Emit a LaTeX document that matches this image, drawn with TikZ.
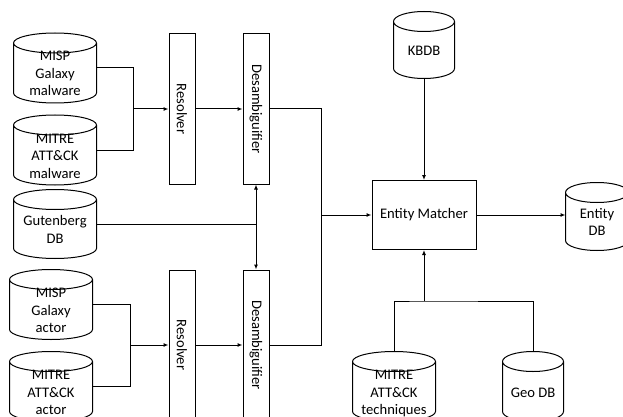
\documentclass[tikz,border=0pt]{standalone}
\usepackage{fontspec}
\setmainfont{Carlito}
\usetikzlibrary{positioning, calc, arrows.meta}
\tikzset{db/.style={minimum width=82pt, minimum height=69pt, inner sep=0pt}}
\tikzset{proc/.style={draw, minimum width=26pt, minimum height=150pt, inner sep=0pt}}
\tikzset{>={Latex[length=5pt,width=4pt]}}
\newcommand{\dbry}{10pt}
\newcommand{\dblines}[1]{\raisebox{-7pt}[\height][\depth]{\begin{tabular}{@{}c@{}}#1\end{tabular}}}

\begin{document}
\begin{tikzpicture}[x=1pt, y=1pt, line width=1pt, font=\fontsize{14.6}{17.5}\selectfont]
      \useasboundingbox (0,0) rectangle (623,-417);
      \clip (0,0) rectangle (623,-417);

      \node[db] (misp0) at (55,-68) {\dblines{MISP\\Galaxy\\malware}};
      \node[db] (mitre0) at (55,-150) {\dblines{MITRE\\ATT\&CK\\malware}};
      \node[db, minimum height=68pt] (gut) at (55,-224) {\dblines{Gutenberg\\DB}};
      \node[db] (misp1) at (51,-304.5) {\dblines{MISP\\Galaxy\\actor}};
      \node[db] (mitre1) at (51,-386.5) {\dblines{MITRE\\ATT\&CK\\actor}};
      \node[db, minimum width=60pt, minimum height=66pt] (kbdb) at (424,-45) {\dblines{KBDB}};
      \node[db, minimum width=62pt, minimum height=67pt] (edb) at (597,-216.5) {\dblines{Entity\\DB}};
      \node[db] (tech) at (394,-386.5) {\dblines{MITRE\\ATT\&CK\\techniques}};
      \node[db, minimum width=60pt] (geo) at (533,-386.5) {\dblines{Geo DB}};

      \foreach \d in {misp0, mitre0, gut, misp1, mitre1, kbdb, edb, tech, geo}
        \draw let \p1=(\d.north west), \p2=(\d.south east), \n1={(\x2-\x1)/2} in
          (\x1,\y1-\dbry) -- (\x1,\y2+\dbry)
          arc[start angle=180, end angle=360, x radius=\n1, y radius=\dbry]
          -- (\x2,\y1-\dbry)
          (\x1,\y1-\dbry) arc[start angle=180, end angle=-180, x radius=\n1, y radius=\dbry];

      \node[proc] (res0) at (182,-109) {\rotatebox{-90}{Resolver}};
      \node[proc] (des0) at (256,-109) {\rotatebox{-90}{Desambiguifier}};
      \node[proc] (res1) at (182,-345) {\rotatebox{-90}{Resolver}};
      \node[proc] (des1) at (256,-345) {\rotatebox{-90}{Desambiguifier}};
      \node[draw, minimum width=104pt, minimum height=69pt] (em) at (424,-215) {Entity Matcher};

      \coordinate (j0) at (133,-109);
      \coordinate (j1) at (130,-345);
      \coordinate (j2) at (256,-224);
      \coordinate (j3) at (321,-215);
      \coordinate (j4) at (424,-301);

      \draw (misp0.east) -| (j0);
      \draw (mitre0.east) -| (j0);
      \draw[->] (j0) -- (res0.west);
      \draw[->] (res0.east) -- (des0.west);

      \draw (misp1.east) -| (j1);
      \draw (mitre1.east) -| (j1);
      \draw[->] (j1) -- (res1.west);
      \draw[->] (res1.east) -- (des1.west);

      \draw (gut.east) -- (j2);
      \draw[->] (j2) -- (des0.south);
      \draw[->] (j2) -- (des1.north);

      \draw (des0.east) -| (j3);
      \draw (des1.east) -| (j3);
      \draw[->] (j3) -- (em.west);

      \draw[->] (kbdb.south) -- (em.north);
      \draw[->] (em.east) -- (em.east -| edb.west);

      \draw (tech.north) |- (j4) -| (geo.north);
      \draw[->] (j4) -- (em.south);
\end{tikzpicture}
\end{document}
